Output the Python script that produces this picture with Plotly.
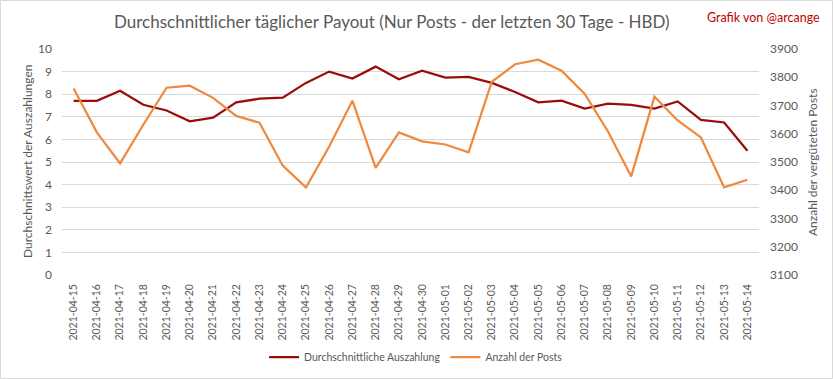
import plotly.graph_objects as go

dates = ["2021-04-15","2021-04-16","2021-04-17","2021-04-18","2021-04-19","2021-04-20",
         "2021-04-21","2021-04-22","2021-04-23","2021-04-24","2021-04-25","2021-04-26",
         "2021-04-27","2021-04-28","2021-04-29","2021-04-30","2021-05-01","2021-05-02",
         "2021-05-03","2021-05-04","2021-05-05","2021-05-06","2021-05-07","2021-05-08",
         "2021-05-09","2021-05-10","2021-05-11","2021-05-12","2021-05-13","2021-05-14"]

avg_payout = [7.71, 7.71, 8.15, 7.53, 7.28, 6.80, 6.96, 7.64, 7.80, 7.85,
              8.50, 9.00, 8.69, 9.22, 8.66, 9.04, 8.73, 8.77, 8.50, 8.10,
              7.64, 7.71, 7.36, 7.58, 7.53, 7.36, 7.68, 6.86, 6.75, 5.50]

post_count = [3760, 3605, 3495, 3632, 3763, 3770, 3727, 3663, 3639, 3487,
              3410, 3555, 3717, 3479, 3605, 3573, 3562, 3534, 3784, 3846,
              3862, 3823, 3741, 3608, 3449, 3731, 3647, 3587, 3410, 3437]

left_ticks = list(range(0, 11))
right_ticks = list(range(3100, 4000, 100))

RED = "#9A0D0D"
ORANGE = "#ED8A3F"
GRAY = "#595959"
GRID = "#D9D9D9"
FONT = "Lato"

fig = go.Figure()
fig.add_trace(go.Scatter(x=dates, y=avg_payout, name="Durchschnittliche Auszahlung",
                         mode="lines", line=dict(color=RED, width=2.25), yaxis="y"))
fig.add_trace(go.Scatter(x=dates, y=post_count, name="Anzahl der Posts",
                         mode="lines", line=dict(color=ORANGE, width=2.25), yaxis="y2"))

fig.update_layout(
    width=833, height=379,
    margin=dict(l=62, r=74, t=49, b=104, autoexpand=False),
    paper_bgcolor="white", plot_bgcolor="white",
    font=dict(family=FONT, color=GRAY, size=12),
    showlegend=True,
    legend=dict(orientation="h", x=0.508, xanchor="center", y=-0.363, yanchor="middle",
                font=dict(size=10.5, color=GRAY), itemwidth=30, bgcolor="rgba(0,0,0,0)"),
    xaxis=dict(type="category", range=[-0.5, len(dates) - 0.5], tickangle=-90,
               showgrid=False, showline=False, ticks="", ticklabelstandoff=6,
               automargin=False, tickfont=dict(size=10.5, color=GRAY), zeroline=False),
    yaxis=dict(range=[0, 10], tickvals=left_ticks, showgrid=True, gridcolor=GRID,
               gridwidth=1, zeroline=False, showline=False, ticks="", ticklabelstandoff=9,
               automargin=False, tickfont=dict(size=12, color=GRAY)),
    yaxis2=dict(range=[3100, 3900], tickvals=right_ticks, overlaying="y", side="right",
                showgrid=False, zeroline=False, showline=False, ticks="", ticklabelstandoff=10,
                automargin=False, tickfont=dict(size=12, color=GRAY)),
    annotations=[
        dict(text="Durchschnittlicher täglicher Payout (Nur Posts - der letzten 30 Tage - HBD)",
             xref="paper", yref="paper", x=(392-62)/697, y=(275-21)/226,
             xanchor="center", yanchor="middle", showarrow=False,
             font=dict(size=17, color=GRAY, family=FONT)),
        dict(text="Grafik von @arcange", xref="paper", yref="paper",
             x=(764-62)/697, y=(275-18)/226, xanchor="center", yanchor="middle",
             showarrow=False, font=dict(size=12.5, color="#C00000", family=FONT)),
        dict(text="Durchschnittswert der Auszahlungen", xref="paper", yref="paper",
             x=(27-62)/697, y=0.5, textangle=-90, xanchor="center", yanchor="middle",
             showarrow=False, font=dict(size=12, color=GRAY, family=FONT)),
        dict(text="Anzahl der vergüteten Posts", xref="paper", yref="paper",
             x=(812-62)/697, y=0.5, textangle=-90, xanchor="center", yanchor="middle",
             showarrow=False, font=dict(size=12, color=GRAY, family=FONT)),
    ],
    shapes=[
        dict(type="rect", xref="paper", yref="paper",
             x0=(0.5-62)/697, x1=(832.5-62)/697, y0=(275-378.5)/226, y1=(275-0.5)/226,
             line=dict(color=GRID, width=1), fillcolor="rgba(0,0,0,0)", layer="below"),
    ],
)

fig.write_html("out.html", config={"displayModeBar": False},
               post_script="document.body.style.margin='0';document.body.style.overflow='hidden';")
